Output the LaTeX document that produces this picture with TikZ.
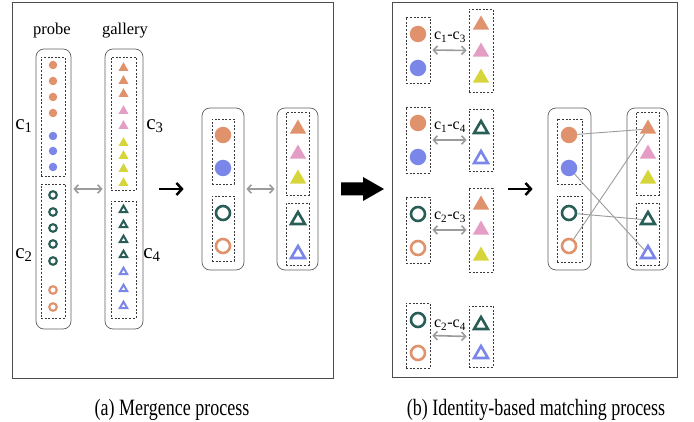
\documentclass[tikz,border=0pt]{standalone}
\usepackage{fontspec}
\setmainfont{Liberation Serif}
\usetikzlibrary{shapes.geometric,arrows.meta}
\definecolor{cor}{RGB}{224,146,108}
\definecolor{cbl}{RGB}{122,134,232}
\definecolor{cpk}{RGB}{228,158,198}
\definecolor{cye}{RGB}{214,214,60}
\definecolor{cgr}{RGB}{40,94,86}
\definecolor{cgy}{RGB}{155,155,155}
\begin{document}
\begin{tikzpicture}[x=1pt,y=-1pt,
  frame/.style={draw=gray!60!black,line width=0.8pt},
  rbox/.style={draw=gray!75!black,line width=0.7pt,rounded corners=8pt,rectangle,inner sep=0pt},
  dbox/.style={draw=gray!45!black,line width=0.75pt,dash pattern=on 2pt off 1.6pt,rectangle,inner sep=0pt},
  sdot/.style={circle,inner sep=0pt,minimum size=8.5pt,fill=#1},
  sring/.style={circle,inner sep=0pt,minimum size=7.6pt,draw=#1,line width=2.1pt},
  stri/.style={regular polygon,regular polygon sides=3,inner sep=0pt,minimum size=11.5pt,fill=#1},
  sotri/.style={regular polygon,regular polygon sides=3,inner sep=0pt,minimum size=8.6pt,draw=#1,line width=2pt},
  bdot/.style={circle,inner sep=0pt,minimum size=16.5pt,fill=#1},
  bring/.style={circle,inner sep=0pt,minimum size=14pt,draw=#1,line width=2.6pt},
  btri/.style={regular polygon,regular polygon sides=3,inner sep=0pt,minimum size=19pt,fill=#1},
  botri/.style={regular polygon,regular polygon sides=3,inner sep=0pt,minimum size=16pt,draw=#1,line width=2.6pt},
  garrow/.style={draw=cgy,line width=1.6pt,{Straight Barb[length=4pt,width=8.5pt]}-{Straight Barb[length=4pt,width=8.5pt]},shorten <=2pt,shorten >=2pt},
  karrow/.style={draw=black,line width=2.5pt,-{Straight Barb[length=5.5pt,width=12pt]}},
  mline/.style={draw=cgy,line width=0.9pt},
  lab/.style={inner sep=0pt,font=\fontsize{16.5}{18}\selectfont},
  clab/.style={inner sep=0pt,font=\fontsize{21}{24}\selectfont},
  plab/.style={inner sep=0pt,font=\fontsize{16}{18}\selectfont},
  captext/.style={inner sep=0pt,font=\fontsize{18}{20}\selectfont}
]
\useasboundingbox (0,0) rectangle (694,422);
% ---------- panel (a) ----------
\draw[frame] (12,2) rectangle (333,378);
\node[rbox,minimum width=35pt,minimum height=280pt] (probeBox) at (53.5,189) {};
\node[rbox,minimum width=38pt,minimum height=280pt] (galBox) at (124,189) {};
\node[dbox,minimum width=24pt,minimum height=119pt] (c1Box) at (53,116.5) {};
\node[dbox,minimum width=24pt,minimum height=134pt] (c2Box) at (53,251) {};
\node[dbox,minimum width=25pt,minimum height=133pt] (c3Box) at (123.5,123.5) {};
\node[dbox,minimum width=25pt,minimum height=117pt] (c4Box) at (123.5,259.5) {};
\foreach \y [count=\i] in {65,81,97,113} \node[sdot=cor] (pa\i) at (53,\y) {};
\foreach \y [count=\i] in {136,151,167} \node[sdot=cbl] (pb\i) at (53,\y) {};
\foreach \y [count=\i] in {195,212,228,244,261} \node[sring=cgr] (pc\i) at (53,\y) {};
\foreach \y [count=\i] in {290,307} \node[sring=cor] (pd\i) at (53,\y) {};
\foreach \y [count=\i] in {68,81,94} \node[stri=cor] (ga\i) at (123.5,\y) {};
\foreach \y [count=\i] in {111,126} \node[stri=cpk] (gb\i) at (123.5,\y) {};
\foreach \y [count=\i] in {143,156,169,183} \node[stri=cye] (gc\i) at (123.5,\y) {};
\foreach \y [count=\i] in {210,225,240,255} \node[sotri=cgr] (gd\i) at (123.5,\y) {};
\foreach \y [count=\i] in {272,289,306} \node[sotri=cbl] (ge\i) at (123.5,\y) {};
\node[lab] (probeL) at (52,31) {probe};
\node[lab] (galL) at (125,31) {gallery};
\node[clab] (c1L) at (24,126) {c\textsubscript{1}};
\node[clab] (c2L) at (24,255) {c\textsubscript{2}};
\node[clab] (c3L) at (155,126) {c\textsubscript{3}};
\node[clab] (c4L) at (152,255) {c\textsubscript{4}};
\draw[garrow] (probeBox.east) -- (galBox.west);
% merged (a)
\node[rbox,minimum width=42pt,minimum height=162pt] (mL) at (223,189) {};
\node[dbox,minimum width=22pt,minimum height=65pt] (mL1) at (223,151.5) {};
\node[dbox,minimum width=22pt,minimum height=65pt] (mL2) at (223,228.5) {};
\node[bdot=cor] (mc1) at (223,135) {};
\node[bdot=cbl] (mc2) at (223,168) {};
\node[bring=cgr] (mc3) at (223,213) {};
\node[bring=cor] (mc4) at (223,246) {};
\node[rbox,minimum width=41pt,minimum height=162pt] (mR) at (297.5,189) {};
\node[dbox,minimum width=23pt,minimum height=83pt] (mR1) at (297.5,153.5) {};
\node[dbox,minimum width=23pt,minimum height=62pt] (mR2) at (297.5,234) {};
\node[btri=cor] (mt1) at (298,129) {};
\node[btri=cpk] (mt2) at (298,154) {};
\node[btri=cye] (mt3) at (298,179) {};
\node[botri=cgr] (mt4) at (298,220) {};
\node[botri=cbl] (mt5) at (298,254) {};
\draw[garrow] (mL.east) -- (mR.west);
\draw[karrow,shorten <=16pt,shorten >=18pt] (galBox.east) -- (mL.west);
\node[captext] (capA) at (172,410) {\scalebox{1}[1.3]{(a) Mergence process}};
% big arrow
\fill[black] (341,182.5) -- (363,182.5) -- (363,177) -- (384,189) -- (363,201) -- (363,195.5) -- (341,195.5) -- cycle;
% ---------- panel (b) ----------
\draw[frame] (392,2) rectangle (677,377);
% group 1
\node[dbox,minimum width=24pt,minimum height=66pt] (p1) at (418,50) {};
\node[dbox,minimum width=24pt,minimum height=83pt] (g1) at (481,50.5) {};
\node[bdot=cor] (p1a) at (418,34) {};
\node[bdot=cbl] (p1b) at (418,68) {};
\node[btri=cor] (g1a) at (481,25) {};
\node[btri=cpk] (g1b) at (481,52) {};
\node[btri=cye] (g1c) at (481,78) {};
\node[plab] (l1) at (450,37) {c\textsubscript{1}-c\textsubscript{3}};
\draw[garrow] (p1.east) -- (g1.west);
% group 2
\node[dbox,minimum width=24pt,minimum height=66pt] (p2) at (418,140) {};
\node[dbox,minimum width=24pt,minimum height=62pt] (g2) at (481,140) {};
\node[bdot=cor] (p2a) at (418,123) {};
\node[bdot=cbl] (p2b) at (418,157) {};
\node[botri=cgr] (g2a) at (481,129) {};
\node[botri=cbl] (g2b) at (481,159) {};
\node[plab] (l2) at (450,127) {c\textsubscript{1}-c\textsubscript{4}};
\draw[garrow] (p2.east) -- (g2.west);
% group 3
\node[dbox,minimum width=24pt,minimum height=66pt] (p3) at (418,230) {};
\node[dbox,minimum width=24pt,minimum height=84pt] (g3) at (481,230) {};
\node[bring=cgr] (p3a) at (418,214) {};
\node[bring=cor] (p3b) at (418,248) {};
\node[btri=cor] (g3a) at (481,205) {};
\node[btri=cpk] (g3b) at (481,230) {};
\node[btri=cye] (g3c) at (481,256) {};
\node[plab] (l3) at (450,217) {c\textsubscript{2}-c\textsubscript{3}};
\draw[garrow] (p3.east) -- (g3.west);
% group 4
\node[dbox,minimum width=24pt,minimum height=65pt] (p4) at (418,335.5) {};
\node[dbox,minimum width=24pt,minimum height=61pt] (g4) at (481,336.5) {};
\node[bring=cgr] (p4a) at (418,320) {};
\node[bring=cor] (p4b) at (418,353) {};
\node[botri=cgr] (g4a) at (481,325) {};
\node[botri=cbl] (g4b) at (481,354) {};
\node[plab] (l4) at (450,325) {c\textsubscript{2}-c\textsubscript{4}};
\draw[garrow] (p4.east) -- (g4.west);
% merged (b)
\node[rbox,minimum width=43pt,minimum height=162pt] (nL) at (569.5,189) {};
\node[dbox,minimum width=25pt,minimum height=65pt] (nL1) at (569.5,151.5) {};
\node[dbox,minimum width=25pt,minimum height=66pt] (nL2) at (569.5,229) {};
\node[bdot=cor] (nc1) at (569,135) {};
\node[bdot=cbl] (nc2) at (569,168) {};
\node[bring=cgr] (nc3) at (569,213) {};
\node[bring=cor] (nc4) at (569,246) {};
\node[rbox,minimum width=41pt,minimum height=162pt] (nR) at (647.5,189) {};
\node[dbox,minimum width=23pt,minimum height=83pt] (nR1) at (647.5,153.5) {};
\node[dbox,minimum width=23pt,minimum height=62pt] (nR2) at (647.5,234) {};
\node[btri=cor] (nt1) at (648,129) {};
\node[btri=cpk] (nt2) at (648,154) {};
\node[btri=cye] (nt3) at (648,179) {};
\node[botri=cgr] (nt4) at (648,220) {};
\node[botri=cbl] (nt5) at (648,254) {};
\coordinate (a2s) at (508,189);
\draw[karrow,shorten >=15pt] (a2s) -- (nL.west);
\draw[mline] (nc1) -- (nt1);
\draw[mline] (nc2) -- (nt5);
\draw[mline] (nc3) -- (nt4);
\draw[mline] (nc4) -- (nt1);
\node[captext] (capB) at (536,410) {\scalebox{1}[1.3]{(b) Identity-based matching process}};
\end{tikzpicture}
\end{document}
